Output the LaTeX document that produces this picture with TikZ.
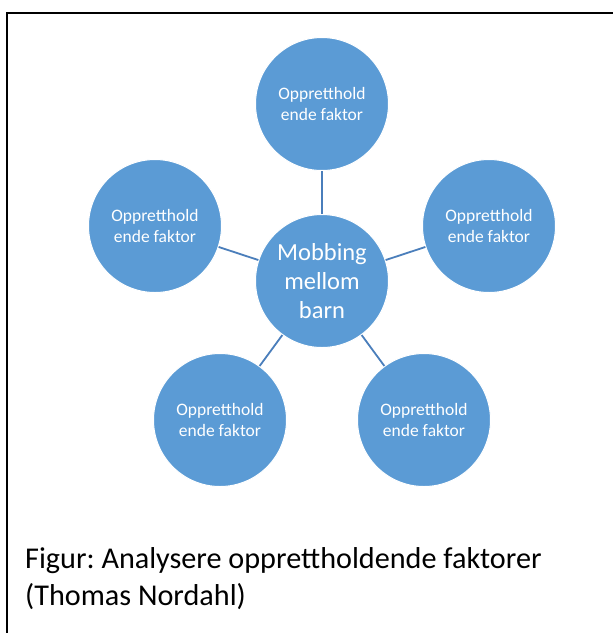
\documentclass[tikz,border=0pt]{standalone}
\usepackage{fontspec}
\setmainfont{Carlito}
\frenchspacing
\definecolor{circblue}{HTML}{5B9BD5}
\definecolor{linkblue}{HTML}{4A7EBB}

\begin{document}
\begin{tikzpicture}[
    x=1pt, y=-1pt,
    factor/.style={circle, draw=white, line width=1pt, fill=circblue, minimum size=133pt,
        inner sep=0pt, text=white, align=center, font=\fontsize{17.5}{21}\selectfont},
    hub/.style={factor, font=\fontsize{24.5}{29}\selectfont},
    link/.style={draw=linkblue, line width=1.8pt}
]
    \useasboundingbox (0,0) rectangle (613,633);

    % --- Frame (top and left edges) ---
    \draw[line width=2pt] (7,633) -- (7,12.5) -- (613,12.5);

    % --- Centre ---
    \node[hub] (M) at (322,281) {Mobbing\\mellom\\barn};

    % --- Maintaining factors ---
    \node[factor] (F1) at (322,104) {Oppretthold\\ende faktor};
    \node[factor] (F2) at (489,226) {Oppretthold\\ende faktor};
    \node[factor] (F3) at (424,420) {Oppretthold\\ende faktor};
    \node[factor] (F4) at (220,420) {Oppretthold\\ende faktor};
    \node[factor] (F5) at (155,226) {Oppretthold\\ende faktor};

    % --- Links ---
    \foreach \f in {F1,F2,F3,F4,F5}
        \draw[link] (M) -- (\f);

    % --- Caption ---
    \node[anchor=north west, align=left, inner sep=0pt,
          font=\fontsize{30.2}{37}\selectfont] (cap) at (25,547)
        {Figur: Analysere opprettholdende faktorer\\(Thomas Nordahl)};

\end{tikzpicture}
\end{document}
